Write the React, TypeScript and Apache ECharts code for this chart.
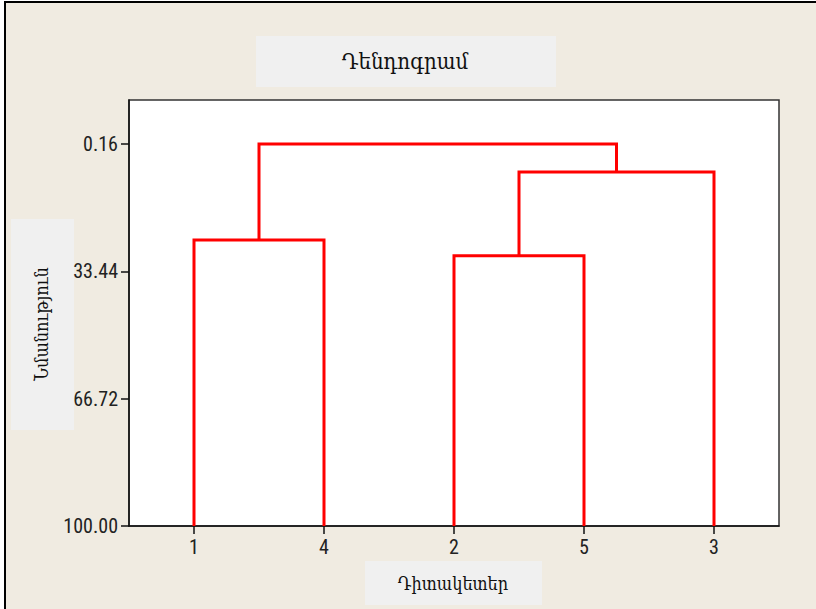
import React, { useEffect, useRef } from 'react';
import * as echarts from 'echarts';

// ---- data ----
const leafLabels = ['1', '4', '2', '5', '3'];
// linkage: indices < 5 are leaves, 5+k is the k-th merge
const mergePairs = [
  [0, 1],
  [2, 3],
  [6, 4],
  [5, 7],
];
const mergeSimilarity = [25.25, 29.35, 7.47, 0.16];
const leafSimilarity = 100;
const yTickValues = [0.16, 33.44, 66.72, 100];
const xTickValues = [1, 2, 3, 4, 5];
const titleText = 'Դենդոգրամ';
const xAxisTitle = 'Դիտակետեր';
const yAxisTitle = 'Նմանություն';

const numFont = '"Roboto Condensed", "Liberation Sans Narrow", sans-serif';
const armFont = '"DejaVu Serif Condensed", "DejaVu Serif", serif';

function buildSeries() {
  const nodes: { x: number; h: number }[] = leafLabels.map((_, i) => ({ x: i + 1, h: leafSimilarity }));
  const series: any[] = [];
  mergePairs.forEach(([a, b], k) => {
    const na = nodes[a];
    const nb = nodes[b];
    const h = mergeSimilarity[k];
    nodes.push({ x: (na.x + nb.x) / 2, h });
    series.push({
      type: 'line',
      data: [
        [na.x, na.h],
        [na.x, h],
        [nb.x, h],
        [nb.x, nb.h],
      ],
      showSymbol: false,
      symbol: 'none',
      lineStyle: { color: '#ff0000', width: 3, join: 'miter' },
      silent: true,
      clip: false,
    });
  });
  return series;
}

export default function App() {
  const ref = useRef<HTMLDivElement>(null);
  useEffect(() => {
    if (!ref.current) return;
    const chart = echarts.init(ref.current, undefined, { renderer: 'svg' });
    chart.setOption({
      animation: false,
      backgroundColor: '#ffffff',
      graphic: [
        {
          type: 'rect',
          z: -100,
          shape: { x: 5, y: 2, width: 830, height: 640 },
          style: { fill: '#f0ebe1', stroke: '#000', lineWidth: 2 },
        },
        {
          type: 'rect',
          z: -50,
          shape: { x: 256, y: 36, width: 300, height: 51 },
          style: { fill: '#f0f0f0' },
        },
        {
          type: 'text',
          z: -40,
          x: 405,
          y: 61,
          style: {
            text: titleText,
            font: `22px ${armFont}`,
            fill: '#111',
            align: 'center',
            verticalAlign: 'middle',
          },
        },
        {
          type: 'rect',
          z: -50,
          shape: { x: 11, y: 219, width: 63, height: 211 },
          style: { fill: '#f0f0f0' },
        },
        {
          type: 'text',
          z: -40,
          x: 41,
          y: 324,
          rotation: Math.PI / 2,
          style: {
            text: yAxisTitle,
            font: `18px ${armFont}`,
            fill: '#111',
            align: 'center',
            verticalAlign: 'middle',
          },
        },
        {
          type: 'rect',
          z: -50,
          shape: { x: 365, y: 561, width: 177, height: 44 },
          style: { fill: '#f0f0f0' },
        },
        {
          type: 'text',
          z: -40,
          x: 453,
          y: 583,
          style: {
            text: xAxisTitle,
            font: `18px ${armFont}`,
            fill: '#111',
            align: 'center',
            verticalAlign: 'middle',
          },
        },
      ],
      grid: {
        left: 129,
        top: 100,
        width: 650,
        height: 426,
        show: true,
        backgroundColor: '#ffffff',
        borderColor: '#333',
        borderWidth: 1.5,
      },
      xAxis: {
        type: 'value',
        min: 0.5,
        max: 5.5,
        axisLine: { show: true, onZero: false, lineStyle: { color: '#111', width: 1.5 } },
        axisTick: { show: true, length: 8, customValues: xTickValues, lineStyle: { color: '#111', width: 1.5 } },
        axisLabel: {
          customValues: xTickValues,
          formatter: (v: number) => leafLabels[Math.round(v) - 1] ?? '',
          fontFamily: numFont,
          fontSize: 20,
          color: '#222',
          margin: 11,
        },
        splitLine: { show: false },
      },
      yAxis: {
        type: 'value',
        inverse: true,
        min: -11.33,
        max: 100,
        axisLine: { show: true, onZero: false, lineStyle: { color: '#111', width: 1.5 } },
        axisTick: { show: true, length: 8, customValues: yTickValues, lineStyle: { color: '#111', width: 1.5 } },
        axisLabel: {
          customValues: yTickValues,
          formatter: (v: number) => v.toFixed(2),
          fontFamily: numFont,
          fontSize: 20,
          color: '#222',
          margin: 11,
        },
        splitLine: { show: false },
      },
      series: buildSeries(),
    });
    return () => chart.dispose();
  }, []);
  return (
    <div
      ref={ref}
      style={{ position: 'fixed', left: 0, top: 0, width: 816, height: 609 }}
    />
  );
}
